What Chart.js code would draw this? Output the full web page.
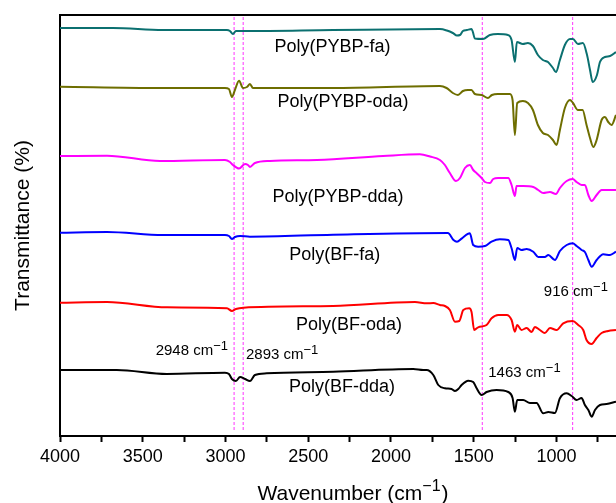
<!DOCTYPE html>
<html>
<head>
<meta charset="utf-8">
<script src="https://cdn.jsdelivr.net/npm/chart.js@4.4.1/dist/chart.umd.min.js"></script>
<style>
html, body { margin: 0; padding: 0; background: #fff; }
#wrap { width: 616px; height: 503px; }
</style>
</head>
<body>
<div id="wrap"><canvas id="ftirChart" width="616" height="503"></canvas></div>
<script>
// wavenumber axis ticks
var majorTicks = [4000, 3500, 3000, 2500, 2000, 1500, 1000];
var minorTicks = [3750, 3250, 2750, 2250, 1750, 1250, 750];

// marker lines (dashed)
var markerLines = [2948, 2893, 1448, 902];

// spectra: wavenumber (cm-1) and transmittance (arb. units, stacked)
var pybpFaWn = [4000, 3680, 3378, 2991, 2973, 2955, 2937, 2882, 2350, 1704, 1662, 1626, 1601, 1583, 1565, 1541, 1513, 1505, 1493, 1444, 1402, 1354, 1293, 1271, 1251, 1239, 1203, 1172, 1142, 1112, 1082, 1051, 1021, 1003, 979, 949, 918, 900, 870, 840, 815, 797, 781, 755, 737, 707, 676, 640];
var pybpFaT  = [408, 408, 406, 406, 405, 402, 405, 405, 406, 407, 405.5, 403, 400.5, 401, 405, 406, 407, 404, 397.5, 397, 401, 402, 401, 396, 374, 394, 392, 393, 390, 381, 376, 374, 368, 364, 376, 391, 397, 397, 392, 393, 381, 366, 354, 361, 374, 379, 380, 384];

var pybpOdaWn = [4000, 3396, 3003, 2979, 2961, 2943, 2918, 2894, 2870, 2852, 2834, 2350, 1704, 1664, 1626, 1595, 1565, 1535, 1513, 1493, 1452, 1414, 1390, 1354, 1281, 1265, 1251, 1237, 1203, 1172, 1142, 1112, 1082, 1051, 1021, 999, 979, 949, 918, 900, 870, 842, 818, 797, 777, 757, 727, 707, 687, 667, 640];
var pybpOdaT  = [349.3, 348, 348, 347, 339, 346, 355.3, 348, 349, 352, 348, 348, 350, 348, 343, 341, 345, 346, 346, 342, 341, 338, 341, 342, 342, 336, 301, 333, 335, 333, 326, 311, 303, 301, 296, 291, 306, 328, 336, 333, 326, 326, 311, 298, 289, 296, 316, 319, 314, 311, 321];

var pybpDdaWn = [4000, 3716, 3396, 3003, 2973, 2955, 2918, 2882, 2864, 2852, 2822, 2731, 2447, 2048, 1825, 1764, 1704, 1674, 1644, 1607, 1583, 1553, 1523, 1503, 1483, 1452, 1432, 1402, 1382, 1352, 1291, 1271, 1251, 1241, 1201, 1140, 1110, 1080, 1039, 1003, 979, 938, 902, 878, 848, 828, 807, 787, 757, 727, 697, 640];
var pybpDdaT  = [280, 280.3, 275, 276, 274, 271, 267.5, 272, 271, 269, 273, 275, 276, 280, 281.7, 279.5, 276, 271, 263, 255, 258, 268, 271, 266, 263, 258, 254, 253, 257, 258, 258, 251, 240, 250, 250, 249, 246, 243, 244, 242, 248, 255, 257, 254, 251, 251, 241, 235, 241, 246, 246, 246];

var bfFaWn = [4000, 3716, 3378, 3003, 2979, 2961, 2943, 2912, 2852, 2350, 1656, 1622, 1601, 1571, 1523, 1503, 1473, 1432, 1392, 1342, 1291, 1271, 1251, 1237, 1211, 1180, 1140, 1110, 1070, 1049, 1009, 979, 938, 902, 878, 848, 828, 807, 787, 757, 717, 676, 640];
var bfFaT  = [203.3, 204, 201, 201, 200, 197, 199, 200, 199.3, 201.3, 203, 196, 194.3, 197.7, 202.7, 191, 189.3, 190, 194.3, 196.7, 196, 187.7, 176, 188, 186, 187, 184.3, 179, 179, 181, 176, 185, 191, 192.7, 190, 186, 184, 176, 169.3, 176, 181.7, 181, 184.3];

var bfOdaWn = [4000, 3716, 3353, 2991, 2961, 2937, 2891, 2350, 1855, 1783, 1744, 1704, 1674, 1644, 1613, 1587, 1563, 1527, 1513, 1497, 1473, 1422, 1392, 1352, 1301, 1271, 1251, 1237, 1211, 1180, 1150, 1130, 1100, 1070, 1039, 999, 959, 902, 868, 838, 818, 787, 757, 727, 687, 640];
var bfOdaT  = [133.3, 134, 128.7, 127.7, 125, 127, 128.3, 130, 134, 132.7, 133, 131, 130, 126, 114.3, 115, 126, 127.7, 124, 106, 108.7, 111, 117.7, 121, 121, 116, 104.3, 111, 106, 108, 104, 109, 106, 103, 108, 106, 112.7, 115, 111, 106, 96, 92, 98, 103, 105, 106];

var bfDdaWn = [4000, 3657, 3355, 3003, 2979, 2961, 2937, 2912, 2882, 2852, 2822, 2751, 2349, 1865, 1805, 1784, 1744, 1714, 1674, 1634, 1613, 1593, 1573, 1533, 1503, 1483, 1452, 1422, 1362, 1291, 1265, 1251, 1237, 1201, 1160, 1120, 1080, 1049, 1009, 979, 938, 908, 878, 848, 828, 807, 787, 767, 737, 697, 640];
var bfDdaT  = [66, 66, 62, 63.3, 62, 57, 55, 59, 57, 55, 61, 62.7, 64.3, 67, 66, 66, 61, 51, 47.7, 47, 45, 47, 51, 55.3, 54, 48, 41, 44, 46, 44, 38, 24.3, 36, 36, 33, 33, 22.7, 24, 23, 37.7, 42.7, 40, 36, 38, 31, 26, 19.3, 26, 31, 32, 34.3];

var seriesNames = ['Poly(PYBP-fa)', 'Poly(PYBP-oda)', 'Poly(PYBP-dda)', 'Poly(BF-fa)', 'Poly(BF-oda)', 'Poly(BF-dda)'];
var seriesColors = ['#0b7070', '#6e6e00', '#ff00ff', '#0000ff', '#ff0000', '#000000'];

// where the text goes, in data coordinates (wavenumber, value)
var seriesLabelPos = [[2353, 389], [2290, 334.3], [2320, 239.3], [2340, 181], [2254, 111], [2296, 49.3]];
var peakLabels = [
	{ text: '2948 cm', x: 3422, y: 81 },
	{ text: '2893 cm', x: 2876, y: 77 },
	{ text: '1463 cm', x: 1412, y: 59 },
	{ text: '916 cm',  x: 1076, y: 140 }
];

var FONT = "'Liberation Sans', Arial, sans-serif";

function toPoints(wn, t) {
	var pts = [];
	for (var i = 0; i < wn.length; i++) {
		pts.push({ x: wn[i], y: t[i] });
	}
	return pts;
}

var spectra = [
	toPoints(pybpFaWn, pybpFaT),
	toPoints(pybpOdaWn, pybpOdaT),
	toPoints(pybpDdaWn, pybpDdaT),
	toPoints(bfFaWn, bfFaT),
	toPoints(bfOdaWn, bfOdaT),
	toPoints(bfDdaWn, bfDdaT)
];

var datasets = [];
for (var s = 0; s < spectra.length; s++) {
	datasets.push({
		label: seriesNames[s],
		data: spectra[s],
		borderColor: seriesColors[s],
		borderWidth: 2,
		pointRadius: 0,
		cubicInterpolationMode: 'monotone',
		fill: false
	});
}
for (var m = 0; m < markerLines.length; m++) {
	datasets.push({
		label: 'marker' + m,
		data: [{ x: markerLines[m], y: 6 }, { x: markerLines[m], y: 421 }],
		borderColor: '#ff33ff',
		borderWidth: 1,
		borderDash: [3, 2],
		pointRadius: 0,
		fill: false
	});
}

// text with a raised "−1"
function drawCm(ctx, x, y, main, mainSize, supSize, raise, align) {
	ctx.font = mainSize + 'px ' + FONT;
	var w1 = ctx.measureText(main).width;
	ctx.font = supSize + 'px ' + FONT;
	var w2 = ctx.measureText('\u22121').width;
	var total = w1 + w2;
	if (align === 'center') x = x - total / 2;
	ctx.textAlign = 'left';
	ctx.textBaseline = 'alphabetic';
	ctx.font = mainSize + 'px ' + FONT;
	ctx.fillText(main, x, y);
	ctx.font = supSize + 'px ' + FONT;
	ctx.fillText('\u22121', x + w1, y - raise);
	return x + total;
}

var textPlugin = {
	id: 'ftirText',
	afterDraw: function(chart) {
		var ctx = chart.ctx;
		var area = chart.chartArea;
		var xs = chart.scales.x, ys = chart.scales.y;
		ctx.save();
		// top frame line
		ctx.strokeStyle = '#000';
		ctx.lineWidth = 2;
		ctx.beginPath();
		ctx.moveTo(area.left - 1, area.top);
		ctx.lineTo(area.right, area.top);
		ctx.stroke();

		ctx.fillStyle = '#000';
		// series names
		ctx.font = '18px ' + FONT;
		ctx.textAlign = 'center';
		ctx.textBaseline = 'middle';
		for (var i = 0; i < seriesNames.length; i++) {
			ctx.fillText(seriesNames[i], xs.getPixelForValue(seriesLabelPos[i][0]), ys.getPixelForValue(seriesLabelPos[i][1]));
		}
		// peak labels
		for (var k = 0; k < peakLabels.length; k++) {
			var p = peakLabels[k];
			drawCm(ctx, xs.getPixelForValue(p.x), ys.getPixelForValue(p.y), p.text, 15, 13, 5, 'left');
		}
		// x axis title
		var endX = drawCm(ctx, (area.left + area.right) / 2 + 11, 500, 'Wavenumber (cm', 21, 16, 9, 'center');
		ctx.font = '21px ' + FONT;
		ctx.textAlign = 'left';
		ctx.fillText(')', endX + 1, 500);
		ctx.restore();
	}
};

var ftirChart = new Chart(document.getElementById('ftirChart').getContext('2d'), {
	type: 'line',
	data: { datasets: datasets },
	options: {
		responsive: false,
		animation: false,
		layout: { padding: { top: 15, left: 0, right: 0, bottom: 0 } },
		plugins: {
			legend: { display: false },
			tooltip: { enabled: false }
		},
		scales: {
			x: {
				type: 'linear',
				reverse: true,
				min: 640,
				max: 4000,
				afterFit: function(scale) { scale.height = 67; },
				afterBuildTicks: function(scale) {
					var all = majorTicks.concat(minorTicks).sort(function(a, b) { return b - a; });
					scale.ticks = all.map(function(v) { return { value: v }; });
				},
				grid: {
					display: true,
					drawOnChartArea: false,
					tickLength: 6,
					tickWidth: 2,
					tickColor: '#000'
				},
				border: { display: true, color: '#000', width: 2 },
				ticks: {
					autoSkip: false,
					maxRotation: 0,
					color: '#000',
					padding: 4,
					font: { family: FONT, size: 18 },
					callback: function(value) {
						return majorTicks.indexOf(value) >= 0 ? String(value) : '';
					}
				}
			},
			y: {
				type: 'linear',
				min: 0,
				max: 421,
				afterFit: function(scale) { scale.width = 60; },
				grid: { display: false },
				border: { display: true, color: '#000', width: 2 },
				ticks: { display: false },
				title: {
					display: true,
					text: 'Transmittance (%)',
					color: '#000',
					font: { family: FONT, size: 21 },
					padding: { top: 11, bottom: 0 }
				}
			}
		}
	},
	plugins: [textPlugin]
});
</script>
</body>
</html>
